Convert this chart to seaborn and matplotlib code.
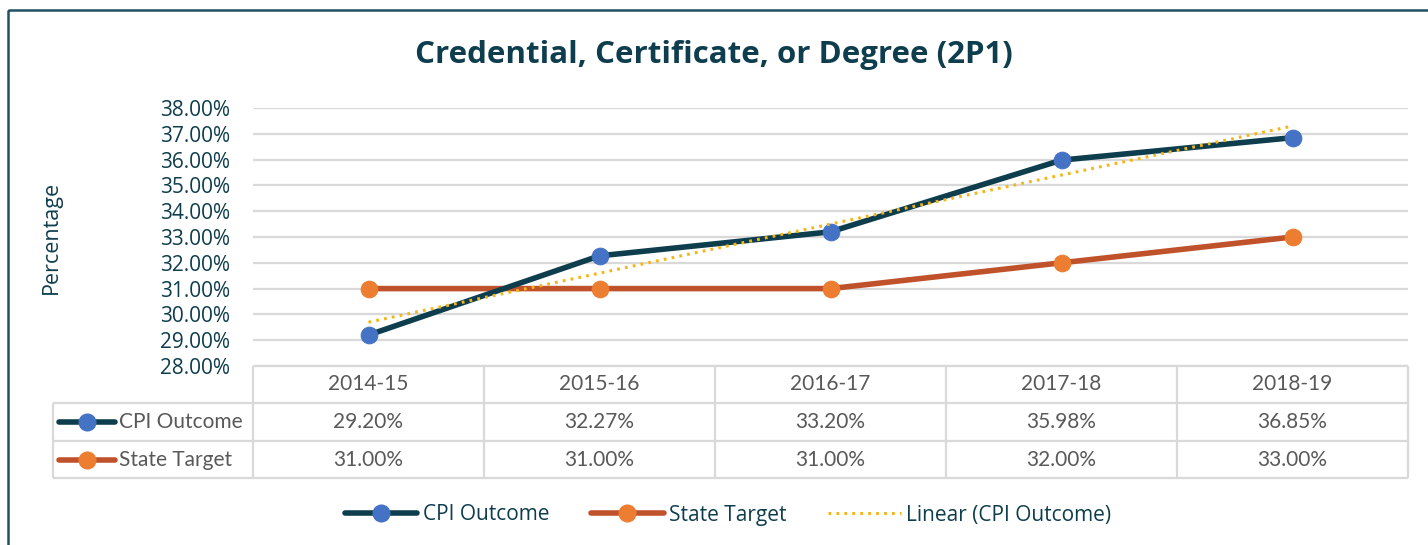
import numpy as np
import pandas as pd
import matplotlib
matplotlib.use("Agg")
import matplotlib.pyplot as plt
from matplotlib.lines import Line2D
from matplotlib.patches import Rectangle
import seaborn as sns

# ---- data ----
years = ["2014-15", "2015-16", "2016-17", "2017-18", "2018-19"]
cpi_outcome = [29.20, 32.27, 33.20, 35.98, 36.85]
state_target = [31.00, 31.00, 31.00, 32.00, 33.00]
series_names = ["CPI Outcome", "State Target"]
y_ticks = [28, 29, 30, 31, 32, 33, 34, 35, 36, 37, 38]

sns.set_theme(style="white")
plt.rcParams['font.family'] = ['Open Sans', 'DejaVu Sans']

W, H = 1428, 545
fig = plt.figure(figsize=(W / 100, H / 100), dpi=100)

TEAL = "#0e3d4d"
CPI_LINE = "#0e3e4d"
CPI_MK = "#4472c4"
ST_LINE = "#c0522b"
ST_MK = "#ed7d31"
TREND = "#f5b517"
GRID = "#d9d9d9"
TXT = "#595959"

def fx(px):
    return px / W

def fy(py):
    return 1 - py / H

# plot area
L, R, T, B = 253, 1408, 108, 366
ax = fig.add_axes([fx(L), fy(B), fx(R) - fx(L), fy(T) - fy(B)])

df = pd.DataFrame({"x": np.arange(len(years)), "CPI Outcome": cpi_outcome,
                   "State Target": state_target})

# trendline from linear fit
coef = np.polyfit(df["x"] + 1, df["CPI Outcome"], 1)
df["trend"] = np.polyval(coef, df["x"] + 1)

for yv in y_ticks:
    ax.axhline(yv, color=GRID, lw=1.6, zorder=0)

LW = 4.0
MS = 12
TREND_LS = (0, (0.9, 1.7))

sns.lineplot(data=df, x="x", y="State Target", ax=ax, color=ST_LINE, lw=LW,
             marker="o", markersize=MS, markerfacecolor=ST_MK,
             markeredgecolor=ST_MK, zorder=3)
sns.lineplot(data=df, x="x", y="CPI Outcome", ax=ax, color=CPI_LINE, lw=LW,
             marker="o", markersize=MS, markerfacecolor=CPI_MK,
             markeredgecolor=CPI_MK, zorder=4)
sns.lineplot(data=df, x="x", y="trend", ax=ax, color=TREND, lw=2.2,
             linestyle=TREND_LS, zorder=5)

ax.set_xlim(-0.5, len(years) - 0.5)
ax.set_ylim(min(y_ticks), max(y_ticks))
ax.set_yticks(y_ticks)
ax.set_yticklabels([f"{v:.2f}%" for v in y_ticks])
ax.set_xticks([])
ax.set_xlabel("")
ax.set_ylabel("Percentage", fontsize=15.5, color=TEAL)
ax.yaxis.set_label_coords((62 - L) / (R - L), 0.5)
ax.tick_params(axis="y", length=0, pad=16.5, labelsize=15, labelcolor=TEAL)
for s in ax.spines.values():
    s.set_visible(False)
ax.set_facecolor("none")

# ---- data table (overlay axes in pixel coords) ----
ov = fig.add_axes([0, 0, 1, 1])
ov.set_xlim(0, W)
ov.set_ylim(H, 0)
ov.axis("off")
ov.patch.set_alpha(0)

TL = 53
rows_y = [366, 403, 441, 478]
ncol = len(years)
cw = (R - L) / ncol
lkw = dict(color=GRID, lw=1.6, solid_capstyle="butt")
ov.plot([L, R], [rows_y[0]] * 2, **lkw)
for yy in rows_y[1:]:
    ov.plot([TL, R], [yy, yy], **lkw)
ov.plot([TL, TL], [rows_y[1], rows_y[3]], **lkw)
for k in range(ncol + 1):
    ov.plot([L + k * cw] * 2, [rows_y[0], rows_y[3]], **lkw)

tfont = dict(family=['Lato', 'DejaVu Sans'], fontsize=15, color=TXT,
             ha="center", va="center")
for k, yr in enumerate(years):
    cx = L + (k + 0.5) * cw
    ov.text(cx, (rows_y[0] + rows_y[1]) / 2, yr, **tfont)
    ov.text(cx, (rows_y[1] + rows_y[2]) / 2, f"{cpi_outcome[k]:.2f}%", **tfont)
    ov.text(cx, (rows_y[2] + rows_y[3]) / 2, f"{state_target[k]:.2f}%", **tfont)

for i, (name, lc, mc) in enumerate([(series_names[0], CPI_LINE, CPI_MK),
                                    (series_names[1], ST_LINE, ST_MK)]):
    yy = (rows_y[i + 1] + rows_y[i + 2]) / 2
    ov.add_line(Line2D([59, 115], [yy, yy], color=lc, lw=LW,
                       solid_capstyle="round"))
    ov.add_line(Line2D([87], [yy], marker="o", markersize=MS, color=mc,
                       markeredgecolor=mc, lw=0))
    ov.text(119, yy, name, family=['Lato', 'DejaVu Sans'], fontsize=15,
            color=TXT, ha="left", va="center")

# ---- frame ----
ov.add_patch(Rectangle((8, 10), W + 50, H + 50, fill=False,
                       edgecolor="#1e5263", lw=1.8))

# ---- title ----
fig.text(0.5, fy(55), "Credential, Certificate, or Degree (2P1)",
         ha="center", va="center", fontsize=22.5, fontweight="bold", color=TEAL)

# ---- legend ----
handles = [
    Line2D([], [], color=CPI_LINE, lw=LW, marker="o", markersize=MS,
           markerfacecolor=CPI_MK, markeredgecolor=CPI_MK),
    Line2D([], [], color=ST_LINE, lw=LW, marker="o", markersize=MS,
           markerfacecolor=ST_MK, markeredgecolor=ST_MK),
    Line2D([], [], color=TREND, lw=2.2, linestyle=TREND_LS),
]
labels = ["CPI Outcome", "State Target", "Linear (CPI Outcome)"]
leg = fig.legend(handles, labels, loc="center", bbox_to_anchor=(fx(728), fy(515)),
                 ncol=3, frameon=False, fontsize=15, handlelength=3.5,
                 handletextpad=0.25, columnspacing=2.0)
for t in leg.get_texts():
    t.set_color(TEAL)

fig.savefig("out.png", dpi=100)
